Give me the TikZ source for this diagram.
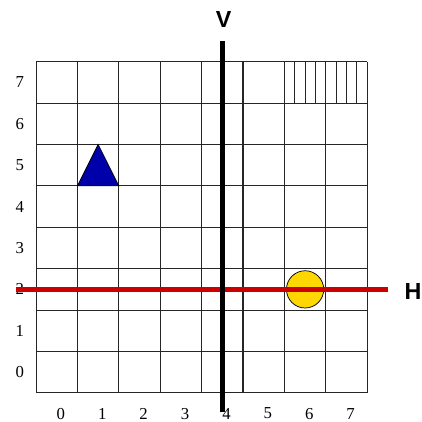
\documentclass[tikz,border=0pt]{standalone}
\usepackage{fontspec}
\setmainfont{Liberation Serif}
\newfontfamily\axisfont{Liberation Sans}
\usepackage{tikz}
\usetikzlibrary{positioning}
\definecolor{lineRed}{RGB}{204,0,0}
\definecolor{triBlue}{RGB}{0,0,170}
\definecolor{ballGold}{RGB}{255,215,0}

\begin{document}
\begin{tikzpicture}[
  every node/.style={inner sep=0pt},
  num/.style={font=\fontsize{11.5}{13}\selectfont},
  axislabel/.style={font=\axisfont\bfseries\fontsize{16}{18}\selectfont},
  cell/.style={draw=black!85, line width=0.7pt}
]
  \useasboundingbox (-0.870,-0.690) rectangle (9.324,9.490);

  % Grid
  \draw[cell] (0,0) grid (8,8);
  \foreach \x in {6.25,6.5,...,7.8}
    \draw[black!85, line width=0.55pt] (\x,7) -- (\x,8);

  % Numbers
  \foreach \i in {0,...,7} {
    \node[num] (col\i) at (\i+0.6,-0.5) {\i};
    \node[num] (row\i) at (-0.39,\i+0.5) {\i};
  }

  % Shapes
  \filldraw[fill=triBlue, draw=black, line width=0.5pt] (1,5) -- (2,5) -- (1.5,6) -- cycle;
  \node[circle, draw=black, line width=0.5pt, fill=ballGold, minimum size=0.9cm] (ball) at (6.5,2.5) {};

  % Axes
  \coordinate (Hleft)  at (-0.48,2.5);
  \coordinate (Hright) at (8.5,2.5);
  \coordinate (Vbot)   at (4.5,-0.47);
  \coordinate (Vtop)   at (4.5,8.49);
  \draw[lineRed, line width=3.8pt] (Hleft) -- (Hright);
  \draw[black, line width=3.1pt] (Vbot) -- (Vtop);
  \node[axislabel] (H) at (9.11,2.45) {H};
  \node[axislabel] (V) at (4.53,9.03) {V};

\end{tikzpicture}
\end{document}
